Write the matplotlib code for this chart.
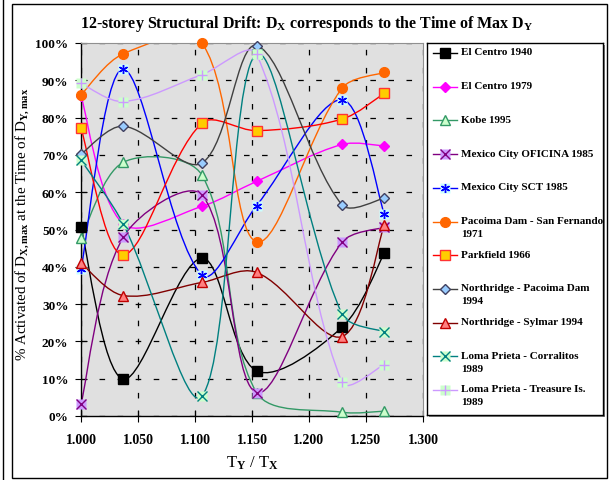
import numpy as np
import matplotlib
matplotlib.use("Agg")
import matplotlib.pyplot as plt
from matplotlib.path import Path
from matplotlib.patches import PathPatch, Rectangle
from matplotlib.lines import Line2D

plt.rcParams['font.family'] = ['Liberation Serif', 'DejaVu Serif']
plt.rcParams['font.weight'] = 'bold'
plt.rcParams['mathtext.fontset'] = 'custom'
plt.rcParams['mathtext.rm'] = 'Liberation Serif:bold'
plt.rcParams['mathtext.it'] = 'Liberation Serif:bold'
plt.rcParams['mathtext.bf'] = 'Liberation Serif:bold'
plt.rcParams['lines.scale_dashes'] = False

# T_Y / T_X for each record set
t_ratio = [1.000, 1.037, 1.106, 1.154, 1.229, 1.266]

# % of D_X,max activated at the time of D_Y,max
el_centro_1940 = [50.6, 9.9, 42.3, 12.1, 23.8, 43.6]
el_centro_1979 = [85.8, 51.5, 56.2, 62.9, 72.8, 72.4]
kobe_1995 = [47.7, 68.0, 64.6, 6.3, 1.0, 1.3]
mexico_oficina_1985 = [3.2, 47.9, 59.3, 6.3, 46.6, 50.6]
mexico_sct_1985 = [39.4, 93.0, 37.8, 56.4, 84.8, 54.2]
pacoima_sf_1971 = [86.1, 97.1, 100.0, 46.7, 87.9, 92.1]
parkfield_1966 = [77.2, 43.2, 78.5, 76.5, 79.6, 86.5]
northridge_pacoima_1994 = [70.2, 77.7, 67.8, 99.3, 56.6, 58.4]
northridge_sylmar_1994 = [41.0, 32.3, 35.8, 38.5, 21.3, 51.2]
loma_corralitos_1989 = [68.6, 51.5, 5.3, 97.0, 27.3, 22.6]
loma_treasure_1989 = [89.2, 84.3, 91.5, 97.0, 9.0, 13.8]

x_ticks = [1.000, 1.050, 1.100, 1.150, 1.200, 1.250, 1.300]
y_ticks = [0, 10, 20, 30, 40, 50, 60, 70, 80, 90, 100]

# name, values, line colour, marker, marker face, marker edge, backing square
series = [
    ("El Centro 1940", el_centro_1940, "black", "s", "black", "black", None),
    ("El Centro 1979", el_centro_1979, "#FF00FF", "D", "#FF00FF", "#FF00FF", None),
    ("Kobe 1995", kobe_1995, "#339966", "^", "#CCFFCC", "#339966", None),
    ("Mexico City OFICINA 1985", mexico_oficina_1985, "#800080", "x", "none", "#800080", "#CC99FF"),
    ("Mexico City SCT 1985", mexico_sct_1985, "#0000FF", (6, 2, 0), "none", "#0000FF", "#CCFFFF"),
    ("Pacoima Dam - San Fernando\n1971", pacoima_sf_1971, "#FF6600", "o", "#FF6600", "#FF6600", None),
    ("Parkfield 1966", parkfield_1966, "#FF0000", "s", "#FFCC00", "#FF3333", None),
    ("Northridge - Pacoima Dam\n1994", northridge_pacoima_1994, "#404040", "D", "#99CCFF", "#404060", None),
    ("Northridge - Sylmar 1994", northridge_sylmar_1994, "#800000", "^", "#FF8080", "#C00000", None),
    ("Loma Prieta - Corralitos\n1989", loma_corralitos_1989, "#008080", "x", "none", "#008080", "#CCFFCC"),
    ("Loma Prieta - Treasure Is.\n1989", loma_treasure_1989, "#CC99FF", "+", "none", "#CC99FF", "#CCFFCC"),
]

W, H = 609, 481


def fx(px):
    return px / W


def fy(py):
    return 1 - py / H


def smooth_path(xs, ys, sx, sy):
    """Smoothed line: Bezier segments whose tangent lengths follow the
    neighbouring segment lengths, measured in screen units (sx, sy)."""
    pts = np.column_stack([xs, ys]).astype(float)
    scr = pts * [sx, sy]
    n = len(pts)
    seg = np.hypot(*np.diff(scr, axis=0).T)
    verts = [pts[0]]
    codes = [Path.MOVETO]
    for i in range(n - 1):
        i0 = max(i - 1, 0)
        i3 = min(i + 2, n - 1)
        d01 = seg[i - 1] if i > 0 else seg[i]
        d12 = seg[i]
        d23 = seg[i + 1] if i + 1 < n - 1 else seg[i]
        c1 = pts[i] + (pts[i + 1] - pts[i0]) * (d12 / (d01 + d12)) / 3
        c2 = pts[i + 1] - (pts[i3] - pts[i]) * (d12 / (d12 + d23)) / 3
        verts += [c1, c2, pts[i + 1]]
        codes += [Path.CURVE4] * 3
    return Path(verts, codes)


def draw_marker(ax, xs, ys, marker, face, edge, back, clip=False):
    size = 6.5
    if back is not None:
        ax.plot(xs, ys, linestyle="none", marker="s", markersize=7,
                markerfacecolor=back, markeredgecolor="none", clip_on=clip, zorder=3)
    if marker == "D":
        size = 5.5
    if marker == "o":
        size = 7
    ax.plot(xs, ys, linestyle="none", marker=marker, markersize=size,
            markerfacecolor=face, markeredgecolor=edge, markeredgewidth=1.0,
            clip_on=clip, zorder=3)


fig = plt.figure(figsize=(W / 100, H / 100), dpi=100)

# chart frame
fig.patches.append(Rectangle((fx(12), fy(479)), fx(607) - fx(12), fy(5) - fy(479),
                             transform=fig.transFigure, facecolor="none",
                             edgecolor="black", linewidth=1.0))
fig.lines.append(Line2D([fx(3), fx(3)], [0, 1], transform=fig.transFigure,
                        color="black", linewidth=1.0))

px_left, px_right, px_top, px_bottom = 81, 423, 44, 417
ax = fig.add_axes([fx(px_left), fy(px_bottom), fx(px_right) - fx(px_left), fy(px_top) - fy(px_bottom)])
ax.set_facecolor("#E0E0E0")
ax.set_xlim(1.0, 1.3)
ax.set_ylim(0, 100)
sx = (px_right - px_left) / 0.3
sy = (px_bottom - px_top) / 100.0

ax.set_xticks(x_ticks)
ax.set_xticklabels([f"{v:.3f}" for v in x_ticks])
ax.set_yticks(y_ticks)
ax.set_yticklabels([f"{v}%" for v in y_ticks])
ax.tick_params(direction="inout", length=8, width=0.8, labelsize=9.5, colors="black")
ax.tick_params(axis="x", pad=8, labelsize=10)
ax.tick_params(axis="y", pad=5)

ax.grid(True, color="black", linestyle=(0, (4, 9)), linewidth=0.9)
ax.set_axisbelow(True)
for side in ("top", "right"):
    ax.spines[side].set_color("#909090")
    ax.spines[side].set_linewidth(0.8)
for side in ("left", "bottom"):
    ax.spines[side].set_color("black")
    ax.spines[side].set_linewidth(1.0)

for name, vals, color, marker, face, edge, back in series:
    ax.add_patch(PathPatch(smooth_path(t_ratio, vals, sx, sy), facecolor="none",
                           edgecolor=color, linewidth=1.0, zorder=2))
    draw_marker(ax, t_ratio, vals, marker, face, edge, back)

ax.set_xlabel(r"T$_\mathrm{Y}$ / T$_\mathrm{X}$", fontsize=12, labelpad=6)
ax.set_ylabel(r"% Activated of D$_\mathrm{X,max}$ at the Time of D$_\mathrm{Y,max}$",
              fontsize=10.8)
ax.yaxis.set_label_coords(-0.147, 0.517)
fig.text(fx(307), fy(24), r"12-storey Structural Drift: D$_\mathrm{X}$ corresponds to the Time of Max D$_\mathrm{Y}$",
         ha="center", va="center", fontsize=11.5, fontweight="bold")

# legend panel with a drop shadow
lx0, ly0, lx1, ly1 = 427, 44, 603, 416
shadow = Rectangle((fx(lx0 + 2), fy(ly1 + 2)), fx(lx1) - fx(lx0), fy(ly0) - fy(ly1),
                   transform=fig.transFigure, facecolor="#808080", edgecolor="none")
shadow.set_zorder(-1)
fig.patches.append(shadow)
lax = fig.add_axes([fx(lx0), fy(ly1), fx(lx1) - fx(lx0), fy(ly0) - fy(ly1)])
lax.set_zorder(5)
lax.set_xlim(0, lx1 - lx0)
lax.set_ylim(ly1 - ly0, 0)
lax.set_xticks([])
lax.set_yticks([])
lax.set_facecolor("white")
for s in lax.spines.values():
    s.set_color("black")
    s.set_linewidth(1.0)

for i, (name, vals, color, marker, face, edge, back) in enumerate(series):
    yy = 10 + i * 33.7
    lax.plot([6, 30], [yy, yy], color=color, linewidth=1.0)
    draw_marker(lax, [18], [yy], marker, face, edge, back, clip=False)
    lax.text(34, yy - 5.5, name, ha="left", va="top", fontsize=8, fontweight="bold",
             linespacing=1.55)

fig.savefig("out.png", dpi=100)
